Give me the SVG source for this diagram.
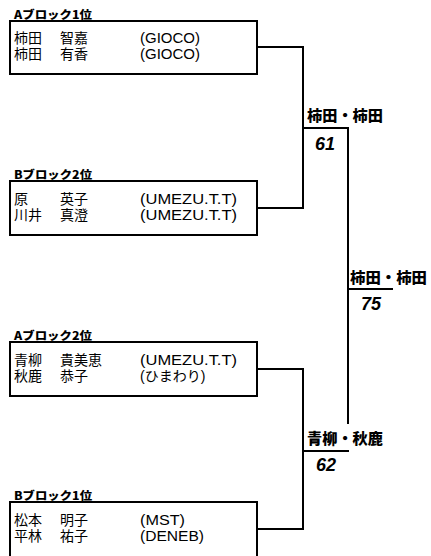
<svg xmlns="http://www.w3.org/2000/svg" width="431" height="556" viewBox="0 0 431 556">
<style>
.box{fill:#fff;stroke:#000;stroke-width:2}
.ln{fill:none;stroke:#000;stroke-width:2}
.blk{font-family:"Noto Sans CJK JP",sans-serif;font-size:11px;font-weight:900;fill:#000}
.nm{font-family:"Liberation Sans","Noto Sans CJK JP",sans-serif;font-size:14px;fill:#000}
.win{font-family:"Noto Sans CJK JP",sans-serif;font-size:15px;font-weight:900;fill:#000}
.sc{font-family:"Liberation Sans",sans-serif;font-size:18px;font-weight:700;font-style:italic;fill:#000}
</style>
<rect width="431" height="556" fill="#fff"/>
<g id="connectors">
<path class="ln" d="M257 47H303V208H257"/>
<path class="ln" d="M303 128H348V424"/>
<path class="ln" d="M348 289H393"/>
<path class="ln" d="M257 369H303V529H257"/>
<path class="ln" d="M303 451H349"/>
</g>
<g id="node-a1">
<text class="blk" x="14" y="19" textLength="78" lengthAdjust="spacingAndGlyphs">Aブロック1位</text>
<rect class="box" x="10" y="21" width="247" height="53"/>
<text class="nm" x="14" y="43">柿田</text><text class="nm" x="60" y="43">智嘉</text><text class="nm" x="140" y="43" textLength="60" lengthAdjust="spacingAndGlyphs">(GIOCO)</text>
<text class="nm" x="14" y="59">柿田</text><text class="nm" x="60" y="59">有香</text><text class="nm" x="140" y="59" textLength="60" lengthAdjust="spacingAndGlyphs">(GIOCO)</text>
</g>
<g id="node-b2">
<text class="blk" x="14" y="179" textLength="78" lengthAdjust="spacingAndGlyphs">Bブロック2位</text>
<rect class="box" x="10" y="181" width="247" height="54"/>
<text class="nm" x="14" y="204">原</text><text class="nm" x="60" y="204">英子</text><text class="nm" x="140" y="204" textLength="97" lengthAdjust="spacingAndGlyphs">(UMEZU.T.T)</text>
<text class="nm" x="14" y="220">川井</text><text class="nm" x="60" y="220">真澄</text><text class="nm" x="140" y="220" textLength="97" lengthAdjust="spacingAndGlyphs">(UMEZU.T.T)</text>
</g>
<g id="node-a2">
<text class="blk" x="14" y="340" textLength="78" lengthAdjust="spacingAndGlyphs">Aブロック2位</text>
<rect class="box" x="10" y="342" width="247" height="54"/>
<text class="nm" x="14" y="365">青柳</text><text class="nm" x="60" y="365">貴美恵</text><text class="nm" x="140" y="365" textLength="97" lengthAdjust="spacingAndGlyphs">(UMEZU.T.T)</text>
<text class="nm" x="14" y="381">秋鹿</text><text class="nm" x="60" y="381">恭子</text><text class="nm" x="140" y="381">(ひまわり)</text>
</g>
<g id="node-b1">
<text class="blk" x="14" y="500" textLength="78" lengthAdjust="spacingAndGlyphs">Bブロック1位</text>
<rect class="box" x="10" y="502" width="247" height="60"/>
<text class="nm" x="14" y="525">松本</text><text class="nm" x="60" y="525">明子</text><text class="nm" x="140" y="525" textLength="45" lengthAdjust="spacingAndGlyphs">(MST)</text>
<text class="nm" x="14" y="541">平林</text><text class="nm" x="60" y="541">祐子</text><text class="nm" x="140" y="541" textLength="64" lengthAdjust="spacingAndGlyphs">(DENEB)</text>
</g>
<g id="result-semi1">
<text class="win" x="307" y="121" textLength="76" lengthAdjust="spacingAndGlyphs">柿田・柿田</text>
<text class="sc" x="315" y="150">61</text>
</g>
<g id="result-final">
<text class="win" x="350" y="283" textLength="77" lengthAdjust="spacingAndGlyphs">柿田・柿田</text>
<text class="sc" x="361" y="310">75</text>
</g>
<g id="result-semi2">
<text class="win" x="307" y="444" textLength="76" lengthAdjust="spacingAndGlyphs">青柳・秋鹿</text>
<text class="sc" x="316" y="471">62</text>
</g>
</svg>
